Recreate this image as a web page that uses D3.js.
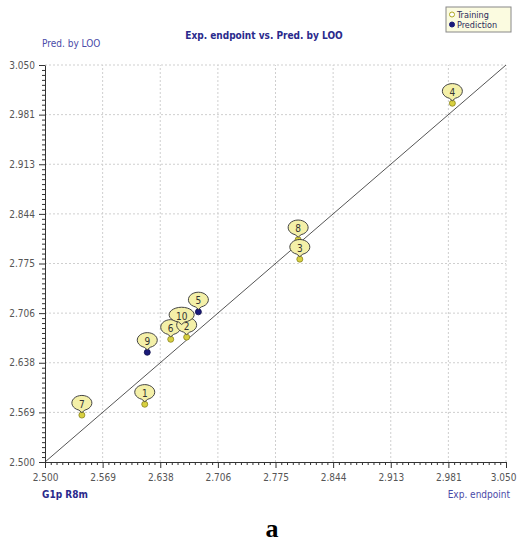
<!DOCTYPE html>
<html>
<head>
<meta charset="utf-8">
<script src="https://cdn.jsdelivr.net/npm/d3@7"></script>
<style>
  body { margin: 0; background: #fff; }
  svg { display: block; }
</style>
</head>
<body>
<div id="chart"></div>
<script>
// compounds: id, experimental endpoint, predicted by LOO, set
const ids      = ["1", "2", "3", "4", "5", "6", "7", "8", "9", "10"];
const expVals  = [2.619, 2.669, 2.804, 2.986, 2.683, 2.650, 2.544, 2.802, 2.622, 2.663];
const predVals = [2.580, 2.673, 2.781, 2.997, 2.708, 2.670, 2.565, 2.808, 2.652, 2.687];
const sets     = ["Training", "Training", "Training", "Training", "Prediction",
                  "Training", "Training", "Training", "Prediction", "Training"];
const tickVals   = [2.5, 2.56875, 2.6375, 2.70625, 2.775, 2.84375, 2.9125, 2.98125, 3.05];
const tickLabels = ["2.500", "2.569", "2.638", "2.706", "2.775", "2.844", "2.913", "2.981", "3.050"];

const data = ids.map((id, i) => ({id: id, x: expVals[i], y: predVals[i], set: sets[i]}));

const width = 517, height = 543;
const svg = d3.select("#chart").append("svg")
    .attr("width", width)
    .attr("height", height);

const x = d3.scaleLinear().domain([2.5, 3.05]).range([45, 506]);
const y = d3.scaleLinear().domain([2.5, 3.05]).range([462, 65]);

const font = "'DejaVu Sans Condensed', Tahoma, 'DejaVu Sans', sans-serif";
const navy = "#2a2a8c";

// minor ticks, 10 per major step
const minor = [];
for (let i = 0; i < tickVals.length - 1; i++) {
    const step = (tickVals[i + 1] - tickVals[i]) / 10;
    for (let k = 1; k < 10; k++) minor.push(tickVals[i] + k * step);
}

// grid
const grid = svg.append("g")
    .attr("stroke", "#cfcfcf")
    .attr("stroke-dasharray", "2,2");
grid.selectAll(".gx")
    .data(tickVals.slice(1))
    .enter().append("line")
    .attr("x1", d => x(d)).attr("x2", d => x(d))
    .attr("y1", y(2.5)).attr("y2", y(3.05));
grid.selectAll(".gy")
    .data(tickVals.slice(1))
    .enter().append("line")
    .attr("y1", d => y(d)).attr("y2", d => y(d))
    .attr("x1", x(2.5)).attr("x2", x(3.05));

// identity line
svg.append("line")
    .attr("x1", x(2.5)).attr("y1", y(2.5))
    .attr("x2", x(3.05)).attr("y2", y(3.05))
    .attr("stroke", "#555")
    .attr("stroke-width", 1);

// axes
const xAxis = svg.append("g")
    .attr("transform", `translate(0,${y(2.5)})`)
    .call(d3.axisBottom(x).tickValues(tickVals)
        .tickFormat((d, i) => tickLabels[i]).tickSize(6).tickSizeOuter(0));
svg.append("g")
    .attr("transform", `translate(0,${y(2.5)})`)
    .call(d3.axisBottom(x).tickValues(minor).tickFormat("").tickSize(3).tickSizeOuter(0))
    .call(g => g.select(".domain").remove());

const yAxis = svg.append("g")
    .attr("transform", `translate(${x(2.5)},0)`)
    .call(d3.axisLeft(y).tickValues(tickVals)
        .tickFormat((d, i) => tickLabels[i]).tickSize(6).tickSizeOuter(0));
svg.append("g")
    .attr("transform", `translate(${x(2.5)},0)`)
    .call(d3.axisLeft(y).tickValues(minor).tickFormat("").tickSize(3).tickSizeOuter(0))
    .call(g => g.select(".domain").remove());

svg.selectAll(".tick line, .domain").attr("stroke", "#333");
svg.selectAll(".tick text")
    .attr("font-family", font)
    .attr("font-size", "10px")
    .attr("fill", "#555");
xAxis.selectAll(".tick text").attr("dy", "1.0em");
// last x label pulled in so it stays inside the page
xAxis.selectAll(".tick text").filter((d, i) => i === tickVals.length - 1)
    .attr("text-anchor", "end")
    .attr("x", 10);
yAxis.selectAll(".tick text").attr("dx", "-1px");

// markers
svg.selectAll(".pt")
    .data(data)
    .enter().append("circle")
    .attr("cx", d => x(d.x))
    .attr("cy", d => y(d.y))
    .attr("r", 3)
    .attr("fill", d => d.set === "Training" ? "#d8d040" : "#1a1a7a")
    .attr("stroke", d => d.set === "Training" ? "#8a8420" : "#10104a")
    .attr("stroke-width", 0.8);

// balloon labels, lower ones first
const balloons = svg.selectAll(".bl")
    .data(data.slice().sort((a, b) => a.y - b.y))
    .enter().append("g")
    .attr("transform", d => `translate(${x(d.x)},${y(d.y)})`);

balloons.append("path")
    .attr("d", d => {
        const rx = d.id.length > 1 ? 12.5 : 10, ry = 7.5, cy = -11.5;
        return `M-3,${cy + ry - 1} L0,-2.5 L3,${cy + ry - 1} ` +
            `A${rx},${ry} 0 1,0 -3,${cy + ry - 1} Z`;
    })
    .attr("fill", "#f4f0a8")
    .attr("stroke", "#444")
    .attr("stroke-width", 1);

balloons.append("text")
    .attr("y", -7.5)
    .attr("text-anchor", "middle")
    .attr("font-family", font)
    .attr("font-size", "10px")
    .attr("fill", "#333")
    .text(d => d.id);

// titles
svg.append("text")
    .attr("x", 264).attr("y", 39)
    .attr("text-anchor", "middle")
    .attr("font-family", font).attr("font-size", "10px").attr("font-weight", "bold")
    .attr("fill", navy)
    .text("Exp. endpoint vs. Pred. by LOO");

svg.append("text")
    .attr("x", 42).attr("y", 47)
    .attr("font-family", font).attr("font-size", "10px")
    .attr("fill", "#4a4aa8")
    .text("Pred. by LOO");

svg.append("text")
    .attr("x", 42).attr("y", 498)
    .attr("font-family", font).attr("font-size", "10px").attr("font-weight", "bold")
    .attr("fill", navy)
    .text("G1p  R8m");

svg.append("text")
    .attr("x", 510).attr("y", 498)
    .attr("text-anchor", "end")
    .attr("font-family", font).attr("font-size", "10px")
    .attr("fill", "#4a4aa8")
    .text("Exp. endpoint");

svg.append("text")
    .attr("x", 272).attr("y", 537)
    .attr("text-anchor", "middle")
    .attr("font-family", "'Liberation Serif', 'Times New Roman', serif")
    .attr("font-size", "26px").attr("font-weight", "bold")
    .attr("fill", "#000")
    .text("a");

// legend
const legend = svg.append("g").attr("transform", "translate(446,7)");
legend.append("rect")
    .attr("width", 65).attr("height", 25)
    .attr("fill", "#fbfbe0")
    .attr("stroke", "#888");
const legendItems = ["Training", "Prediction"];
legend.selectAll(".li")
    .data(legendItems)
    .enter().append("circle")
    .attr("cx", 6).attr("cy", (d, i) => 7.5 + i * 10)
    .attr("r", 2.5)
    .attr("fill", d => d === "Training" ? "#fff" : "#1a1a7a")
    .attr("stroke", d => d === "Training" ? "#b0a820" : "#1a1a7a")
    .attr("stroke-width", 1);
legend.selectAll(".lt")
    .data(legendItems)
    .enter().append("text")
    .attr("x", 11).attr("y", (d, i) => 11 + i * 10)
    .attr("font-family", font).attr("font-size", "9px")
    .attr("fill", "#2a2a5a")
    .text(d => d);
</script>
</body>
</html>
